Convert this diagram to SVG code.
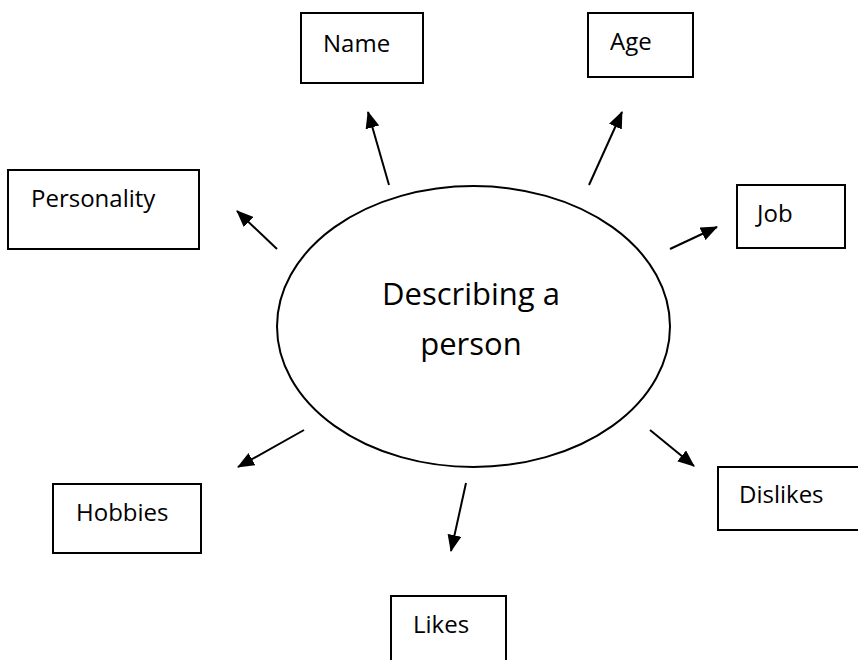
<svg xmlns="http://www.w3.org/2000/svg" width="858" height="660" viewBox="0 0 858 660">
<style>
.box{fill:#fff;stroke:#000;stroke-width:2}
.lbl{font-family:"Open Sans","DejaVu Sans",sans-serif;font-size:24px;fill:#000}
.big{font-family:"Open Sans","DejaVu Sans",sans-serif;font-size:31px;fill:#000;text-anchor:middle}
.arr{stroke:#000;stroke-width:2;fill:none;marker-end:url(#ah)}
</style>
<defs>
<marker id="ah" viewBox="0 0 17 14" refX="16" refY="7" markerWidth="17" markerHeight="14" markerUnits="userSpaceOnUse" orient="auto">
<path d="M0,0 L17,7 L0,14 z" fill="#000"/>
</marker>
</defs>
<rect width="858" height="660" fill="#fff"/>
<g id="center">
<ellipse cx="473.5" cy="326.5" rx="196.5" ry="140.5" fill="#fff" stroke="#000" stroke-width="2"/>
<text class="big" x="471" y="305">Describing a</text>
<text class="big" x="471" y="355">person</text>
</g>
<g id="name"><rect class="box" x="301" y="13" width="122" height="70"/><text class="lbl" x="323" y="52">Name</text></g>
<g id="age"><rect class="box" x="588" y="13" width="105" height="64"/><text class="lbl" x="610" y="50">Age</text></g>
<g id="personality"><rect class="box" x="8" y="170" width="191" height="79"/><text class="lbl" x="31" y="207">Personality</text></g>
<g id="job"><rect class="box" x="737" y="185" width="108" height="63"/><text class="lbl" x="757" y="222">Job</text></g>
<g id="hobbies"><rect class="box" x="53" y="484" width="148" height="69"/><text class="lbl" x="76" y="521">Hobbies</text></g>
<g id="dislikes"><rect class="box" x="718" y="467" width="145" height="63"/><text class="lbl" x="739" y="503">Dislikes</text></g>
<g id="likes"><rect class="box" x="391" y="596" width="115" height="70"/><text class="lbl" x="413" y="633">Likes</text></g>
<g id="connectors">
<line class="arr" x1="389" y1="185" x2="368" y2="112"/>
<line class="arr" x1="589" y1="185" x2="622" y2="112"/>
<line class="arr" x1="277" y1="249" x2="237" y2="211"/>
<line class="arr" x1="670" y1="249" x2="717" y2="227"/>
<line class="arr" x1="304" y1="430" x2="238" y2="467"/>
<line class="arr" x1="650" y1="430" x2="694" y2="466"/>
<line class="arr" x1="466" y1="483" x2="451" y2="551"/>
</g>
</svg>
